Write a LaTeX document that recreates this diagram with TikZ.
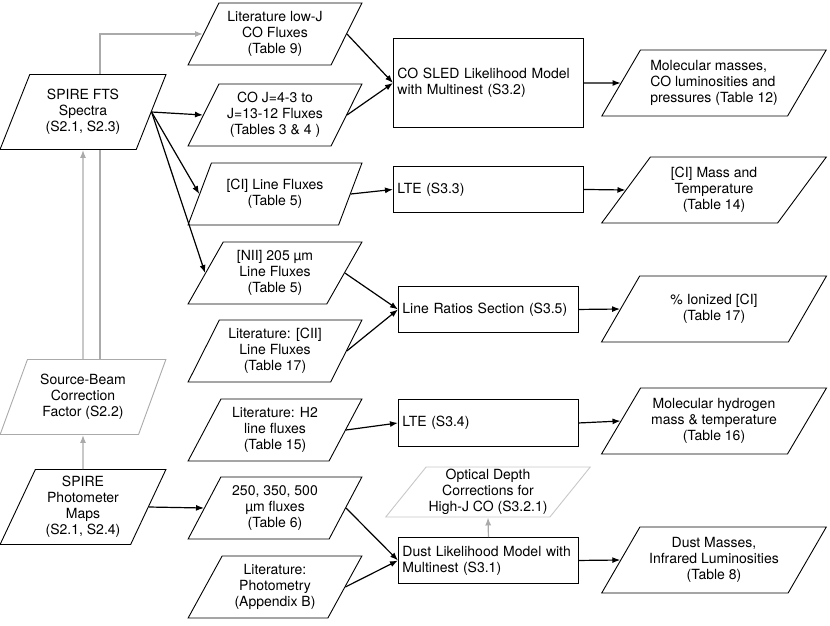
\documentclass[tikz,border=0pt]{standalone}
\usepackage{fontspec}
\setmainfont{TeX Gyre Heros}
\usetikzlibrary{shapes.geometric, arrows.meta, backgrounds}
\definecolor{flowgray}{RGB}{170,170,170}
\definecolor{flowlight}{RGB}{200,200,200}
\tikzset{
  para/.style={trapezium, draw, line width=0.9pt, fill=white, align=center,
    trapezium stretches=true, inner sep=2pt, font=\fontsize{14}{16}\selectfont},
  srcbox/.style={para, trapezium left angle=66, trapezium right angle=114,
    minimum width=166pt, minimum height=75pt},
  databox/.style={para, trapezium left angle=61, trapezium right angle=119,
    minimum width=174pt, minimum height=62pt},
  resbox/.style={para, trapezium left angle=55, trapezium right angle=125,
    minimum width=225pt, minimum height=66pt},
  modelbox/.style={rectangle, draw, line width=0.9pt, fill=white, align=left,
    inner xsep=4pt, inner ysep=2pt, anchor=north west, font=\fontsize{14}{16}\selectfont},
  link/.style={-{Latex[length=8pt,width=6pt]}, line width=1.2pt},
  glink/.style={link, draw=flowgray}
}
\begin{document}
\begin{tikzpicture}[x=1pt, y=-1pt]
  \useasboundingbox (0,0) rectangle (830,625);
  % inputs
  \node[srcbox] (fts) at (83,112) {SPIRE FTS\\Spectra\\(S2.1, S2.3)};
  \node[srcbox, draw=flowgray] (beam) at (83,397) {Source-Beam\\Correction\\Factor (S2.2)};
  \node[srcbox] (phot) at (83,507) {SPIRE\\Photometer\\Maps\\(S2.1, S2.4)};
  % fluxes
  \node[databox] (lowj) at (275,34) {Literature low-J\\CO Fluxes\\(Table 9)};
  \node[databox] (coj) at (275,115) {CO J=4-3 to\\J=13-12 Fluxes\\(Tables 3 \& 4 )};
  \node[databox] (ci) at (275,194) {[CI] Line Fluxes\\(Table 5)};
  \node[databox] (nii) at (275,273) {[NII] 205 µm\\Line Fluxes\\(Table 5)};
  \node[databox] (cii) at (275,351) {Literature: [CII]\\Line Fluxes\\(Table 17)};
  \node[databox] (htwo) at (275,430) {Literature: H2\\line fluxes\\(Table 15)};
  \node[databox] (smm) at (275,508) {250, 350, 500\\µm fluxes\\(Table 6)};
  \node[databox] (litphot) at (275,587) {Literature:\\Photometry\\(Appendix B)};
  % models
  \node[modelbox, text width=182pt, minimum height=89pt] (sled) at (393,38) {CO SLED Likelihood Model\\with Multinest (S3.2)};
  \node[modelbox, text width=182pt, minimum height=46pt] (lteci) at (393,166) {LTE (S3.3)};
  \node[modelbox, text width=172pt, minimum height=46pt] (ratio) at (398,286) {Line Ratios Section (S3.5)};
  \node[modelbox, text width=172pt, minimum height=47pt] (lteh) at (398,399) {LTE (S3.4)};
  \node[modelbox, text width=172pt, minimum height=46pt] (dust) at (398,537) {Dust Likelihood Model with\\Multinest (S3.1)};
  \node[para, draw=flowlight, trapezium left angle=51, trapezium right angle=129,
    minimum width=205pt, minimum height=50pt] (tau) at (488,492) {Optical Depth\\Corrections for\\High-J CO (S3.2.1)};
  % results
  \node[resbox, align=left] (molmass) at (714,83) {Molecular masses,\\CO luminosities and\\pressures (Table 12)};
  \node[resbox] (cimass) at (714,190) {[CI] Mass and\\Temperature\\(Table 14)};
  \node[resbox] (ionized) at (714,309) {\% Ionized [CI]\\(Table 17)};
  \node[resbox] (hmass) at (714,421) {Molecular hydrogen\\mass \& temperature\\(Table 16)};
  \node[resbox] (dustmass) at (714,560) {Dust Masses,\\Infrared Luminosities\\(Table 8)};

  \begin{scope}[on background layer]
    \draw[glink] ([xshift=17pt]beam.north) |- (lowj.west);
  \end{scope}
  \draw[glink] (phot.north) -- (beam.south);
  \draw[glink] (beam.north) -- (fts.south);
  \draw[glink] (dust.north) -- (tau.south);
  \foreach \a/\b in {fts/coj, fts/ci, fts/nii, phot/smm,
                     lowj/sled, coj/sled, ci/lteci, nii/ratio, cii/ratio,
                     htwo/lteh, smm/dust, litphot/dust,
                     sled/molmass, lteci/cimass, ratio/ionized,
                     lteh/hmass, dust/dustmass}
    \draw[link] (\a.east) -- (\b.west);
\end{tikzpicture}
\end{document}
